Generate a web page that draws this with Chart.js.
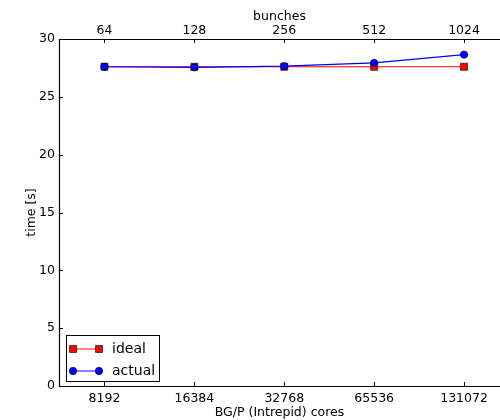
<!DOCTYPE html>
<html><head><meta charset="utf-8">
<script src="https://cdn.jsdelivr.net/npm/chart.js@4"></script>
<style>html,body{margin:0;padding:0;background:#fff}canvas{display:block}</style>
</head><body>
<canvas id="c" width="500" height="420"></canvas>
<script>
const cores = ['8192','16384','32768','65536','131072'];
const bunches = ['64','128','256','512','1024'];
const ideal = [27.6, 27.6, 27.6, 27.6, 27.6];
const actual = [27.6, 27.55, 27.65, 27.93, 28.65];
const yTicks = [0,5,10,15,20,25,30];

const FONT = 'DejaVu Sans';
const toPts = arr => arr.map((v,i)=>({x:i,y:v}));

const inwardTicks = {
  id:'inwardTicks',
  afterDatasetsDraw(chart){
    const {ctx, chartArea:a, scales} = chart;
    ctx.save();
    ctx.strokeStyle='#000'; ctx.lineWidth=1;
    ctx.beginPath();
    for(let i=0;i<cores.length;i++){
      const x = Math.round(scales.x.getPixelForValue(i))+0.5;
      ctx.moveTo(x,a.bottom); ctx.lineTo(x,a.bottom-4);
      ctx.moveTo(x,a.top); ctx.lineTo(x,a.top+4);
    }
    yTicks.forEach(v=>{
      const y = Math.round(scales.y.getPixelForValue(v))+0.5;
      ctx.moveTo(a.left,y); ctx.lineTo(a.left+4,y);
    });
    ctx.stroke();
    ctx.lineWidth=1.2;
    const L=Math.round(a.left)+0.5, T=Math.round(a.top)+0.5, B=Math.round(a.bottom)+0.5;
    ctx.beginPath();
    ctx.moveTo(a.right+5,T); ctx.lineTo(L,T); ctx.lineTo(L,B); ctx.lineTo(a.right+5,B);
    ctx.stroke();
    // legend
    const lx = Math.round(a.left)+7, ly = Math.round(a.bottom)-51, lw=93, lh=46;
    ctx.lineWidth=1;
    ctx.fillStyle='#fff';
    ctx.fillRect(lx,ly,lw,lh);
    ctx.strokeRect(lx+0.5,ly+0.5,lw,lh);
    const items=[{label:'ideal',color:'#ff0000',style:'rect'},{label:'actual',color:'#0000ff',style:'circle'}];
    items.forEach((it,k)=>{
      const yy = ly+14+k*22;
      ctx.strokeStyle=it.color; ctx.lineWidth=1;
      ctx.beginPath(); ctx.moveTo(lx+7,yy); ctx.lineTo(lx+33,yy); ctx.stroke();
      [lx+7,lx+33].forEach(px=>{
        ctx.fillStyle=it.color; ctx.strokeStyle='#000'; ctx.lineWidth=0.6;
        ctx.beginPath();
        if(it.style==='rect'){ ctx.rect(px-3.5,yy-3.5,7,7);} else {ctx.arc(px,yy,3.7,0,Math.PI*2);}
        ctx.fill(); ctx.stroke();
      });
      ctx.fillStyle='#000'; ctx.font='14px "'+FONT+'"'; ctx.textBaseline='middle'; ctx.textAlign='left';
      ctx.fillText(it.label, lx+46, yy);
    });
    ctx.restore();
  }
};

new Chart(document.getElementById('c'),{
  type:'line',
  data:{datasets:[
    {label:'actual',data:toPts(actual),borderColor:'#0000ff',backgroundColor:'#0000ff',pointBorderColor:'#000',pointBorderWidth:0.6,borderWidth:1.2,pointStyle:'circle',pointRadius:3.7,xAxisID:'x',yAxisID:'y',order:0},
    {label:'ideal',data:toPts(ideal),borderColor:'#ff0000',backgroundColor:'#ff0000',pointBorderColor:'#000',pointBorderWidth:0.6,borderWidth:1.2,pointStyle:'rect',pointRadius:5,xAxisID:'x',yAxisID:'y',order:1}
  ]},
  options:{
    responsive:false, animation:false,
    layout:{autoPadding:false,padding:{left:0,right:0,top:0,bottom:0}},
    plugins:{legend:{display:false},tooltip:{enabled:false}},
    scales:{
      x:{type:'linear',position:'bottom',min:-0.506,max:4.4,
        afterBuildTicks:s=>{s.ticks=cores.map((c,i)=>({value:i}));},
        afterFit:s=>{s.height=34; s.paddingLeft=0; s.paddingRight=0;},
        grid:{display:false,drawTicks:false},border:{display:false},
        ticks:{padding:5,color:'#000',font:{family:FONT,size:12.5},callback:(v)=>cores[v],maxRotation:0,autoSkip:false},
        title:{display:true,text:'BG/P (Intrepid) cores',color:'#000',font:{family:FONT,size:12.5},padding:{top:0,bottom:0}}},
      x2:{type:'linear',position:'top',min:-0.506,max:4.4,
        afterBuildTicks:s=>{s.ticks=bunches.map((c,i)=>({value:i}));},
        afterFit:s=>{s.height=39; s.paddingLeft=0; s.paddingRight=0;},
        grid:{display:false,drawTicks:false},border:{display:false},
        ticks:{padding:1,color:'#000',font:{family:FONT,size:12.5},callback:(v)=>bunches[v],maxRotation:0,autoSkip:false},
        title:{display:true,text:'bunches',color:'#000',font:{family:FONT,size:12.5},padding:{top:9,bottom:0}}},
      y:{type:'linear',min:0,max:30,
        afterBuildTicks:s=>{s.ticks=yTicks.map(v=>({value:v}));},
        afterFit:s=>{s.width=59;},
        grid:{display:false,drawTicks:false},border:{display:false},
        ticks:{padding:4,color:'#000',font:{family:FONT,size:12.5}},
        title:{display:true,text:'time [s]',color:'#000',font:{family:FONT,size:12.5},padding:{top:24,bottom:0}}}
    }
  },
  plugins:[inwardTicks]
});
</script>
</body></html>
